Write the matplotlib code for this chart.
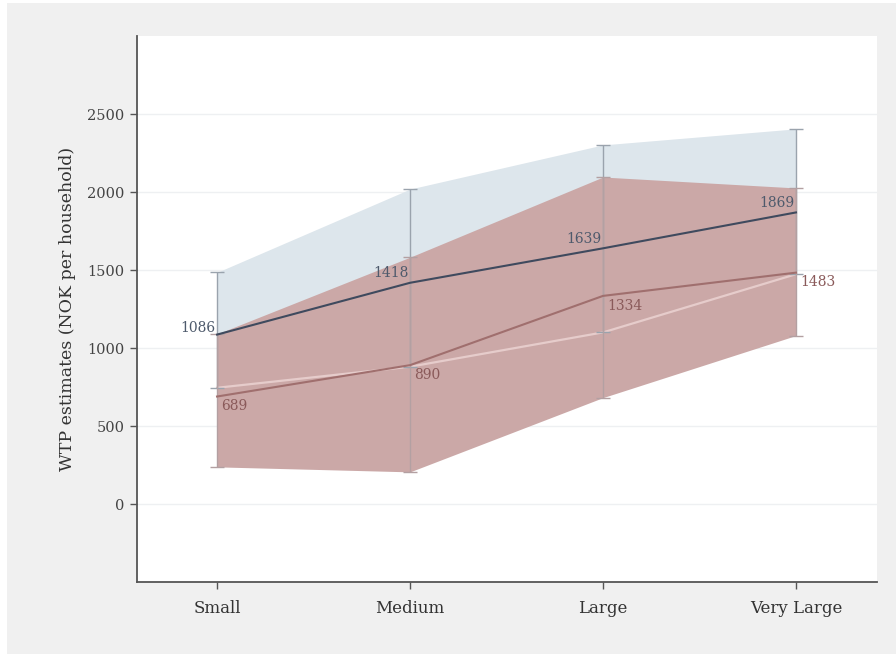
import matplotlib
matplotlib.use("Agg")
import matplotlib.pyplot as plt
from matplotlib.patches import Rectangle
import numpy as np

# Project size categories
categories = ["Small", "Medium", "Large", "Very Large"]

# Series A (blue): mean WTP with 95% confidence bounds
a_mean = [1086, 1418, 1639, 1869]
a_low = [745, 880, 1100, 1473]
a_high = [1485, 2019, 2302, 2405]

# Series B (red): mean WTP with 95% confidence bounds
b_mean = [689, 890, 1334, 1483]
b_low = [238, 206, 682, 1080]
b_high = [1090, 1582, 2096, 2026]

y_ticks = [0, 500, 1000, 1500, 2000, 2500]

plt.rcParams["font.family"] = ["DejaVu Serif"]

fig = plt.figure(figsize=(8.96, 6.54), dpi=100, facecolor="white")
fig.patches.append(Rectangle((7 / 896, 0), 1, 1 - 3 / 654, transform=fig.transFigure,
                             facecolor="#f0f0f0", edgecolor="none", zorder=-10))
ax = fig.add_axes([137 / 896, 1 - 582 / 654, (877 - 137) / 896, (582 - 36) / 654])
ax.set_facecolor("white")

x = np.arange(len(categories))

# confidence bands
ax.fill_between(x, a_low, a_high, color="#dde6ec", linewidth=0, zorder=1)
ax.fill_between(x, b_low, b_high, color="#cba8a7", linewidth=0, zorder=2)
ax.plot(x, a_low, color="#e6cccb", linewidth=1.6, zorder=3)

# capped range bars
ax.errorbar(x, a_mean, yerr=[np.subtract(a_mean, a_low), np.subtract(a_high, a_mean)],
            fmt="none", ecolor="#9aa3ad", elinewidth=1.0, capsize=5, capthick=1.0, zorder=4)
ax.errorbar(x, b_mean, yerr=[np.subtract(b_mean, b_low), np.subtract(b_high, b_mean)],
            fmt="none", ecolor="#b3a0a2", elinewidth=1.0, capsize=5, capthick=1.0, zorder=4)

# mean lines
ax.plot(x, a_mean, color="#3f4a5e", linewidth=1.5, zorder=5)
ax.plot(x, b_mean, color="#a06f6e", linewidth=1.5, zorder=5)

# value labels
for xi, v in zip(x, a_mean):
    dy = 0 if xi == 0 else 2
    ax.annotate(f"{v}", (xi, v), xytext=(-1, dy), textcoords="offset points",
                ha="right", va="bottom", fontsize=10, color="#4e5a6c", zorder=6)
for xi, v in zip(x, b_mean):
    ax.annotate(f"{v}", (xi, v), xytext=(3, -2), textcoords="offset points",
                ha="left", va="top", fontsize=10, color="#8a5a5a", zorder=6)

ax.set_xlim(-0.415, 3.42)
ax.set_ylim(-500, 3000)
ax.set_xticks(x)
ax.set_xticklabels(categories, fontsize=12, color="#333333")
ax.set_yticks(y_ticks)
ax.set_yticklabels([str(t) for t in y_ticks], fontsize=10.5, color="#444444")
ax.set_ylabel("WTP estimates (NOK per household)", fontsize=12.5, color="#333333", labelpad=8)

ax.grid(axis="y", color="#eef0f2", linewidth=1.0, zorder=0)
ax.set_axisbelow(True)
for s in ["top", "right"]:
    ax.spines[s].set_visible(False)
for s in ["left", "bottom"]:
    ax.spines[s].set_color("#555555")
    ax.spines[s].set_linewidth(1.3)
ax.tick_params(axis="both", direction="out", length=5, width=1, color="#555555")
ax.tick_params(axis="x", pad=8)
ax.tick_params(axis="y", pad=4)

fig.savefig("out.png", dpi=100, facecolor=fig.get_facecolor())
